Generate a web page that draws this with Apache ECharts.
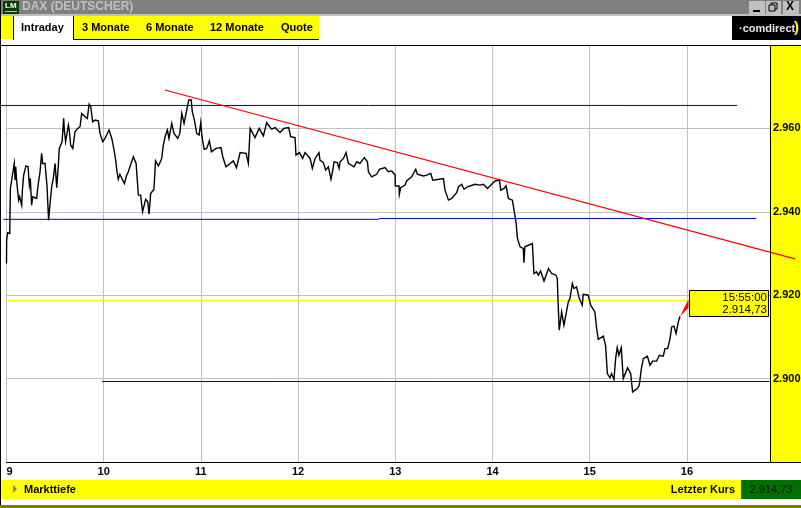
<!DOCTYPE html>
<html><head><meta charset="utf-8">
<style>html,body{margin:0;padding:0;background:#fff}#c{width:801px;height:508px}</style>
<script src="https://cdn.jsdelivr.net/npm/echarts@6/dist/echarts.min.js"></script>
</head><body><div id="c"></div>
<script>
// minutes after 09:00 and DAX index level
const priceMinutes = [0,0.1,0.7,2,2.4,3.6,4.8,5.3,5.7,6.3,7.5,8.1,9.4,9.8,10.6,12,13.3,14.1,14.7,15.5,16.2,18.6,19.3,20.7,21.7,22.3,23.8,25,26,26.9,27.9,28.9,30,31,32,32.6,34.3,35.3,35.7,36.5,38.2,38.8,39.6,40.9,42.3,44,45.4,46.4,47.4,48.5,49.9,51,52,53.2,54.7,56.7,57.7,59.4,60.8,63.3,65,66.4,67.4,68.2,69,70,72.8,74.2,75.2,76.3,78.3,80,81.4,82.8,84,85,85.9,87.2,88,89,91,92,93.8,95.8,96.8,97.9,99.3,100.3,102,103.4,105.7,107,108.2,109.6,110.8,112.5,114,114.7,116,117.4,118.9,119.9,120.7,122,123.6,125.2,126.5,127.7,129.4,132.4,133.5,135.5,138,140,142,144.2,147.9,149.3,150.4,153.4,156,158.6,160.6,161.6,163.7,165.8,168.8,171.3,174.2,175.4,178.1,178.7,180.8,182.8,184.3,187.4,188.8,190.5,192.9,193.5,195.6,197,198.7,200.3,201.4,202.2,204.2,205.3,205.9,208,209.6,211,214.5,216.2,218.2,220.9,222.8,223.4,225.4,228.5,230.2,233.7,235.7,237.8,239.9,240,242.3,242.5,243.3,246,247,250.1,252.6,253.6,257.3,259.4,261.9,263.1,269.7,270.7,272.8,274.8,277.9,279,281,282.4,284.5,289.2,292.3,294.4,296.9,299.5,301.6,304.3,305.1,307.1,308.4,309.8,312.3,313.3,314.6,315.4,317,319,319.4,320,324.6,325.6,327.2,328.3,329.7,331.8,334.6,336.5,339.2,340,340.4,341.2,342.7,344.1,345.3,346.8,347.8,349.3,350.3,351.9,353.6,355.4,356,359.1,360.6,363.2,364.3,365.3,368.4,369.8,370.9,372.5,373.5,375,376,377,378,379.5,380.7,381.8,383.4,385.3,386.5,389.4,390.6,391.9,393.1,395.6,397.2,398.9,401.3,403,405.4,406.5,408.1,409.6,410.6,412,413.3,414.7,415.7];
const priceValues = [2927.6,2933.2,2935,2934.8,2945.6,2945.8,2951.6,2947.6,2950.8,2947.2,2942.8,2943.6,2941.6,2945.2,2948.8,2951,2950.8,2946.4,2948,2941.6,2943.6,2943.2,2945.8,2949.6,2954,2951.6,2951.6,2946.2,2938,2942,2946,2948,2951.6,2945.8,2951.2,2955.2,2956.8,2962.4,2959.6,2956.8,2960.8,2959.4,2956,2955.2,2959.2,2960,2960.4,2963.6,2964,2962.8,2962.4,2965.8,2965.2,2961.6,2962,2961.8,2958.8,2956.8,2957.6,2959.6,2957.6,2954.8,2952.4,2949.6,2947.8,2949,2946.8,2948.8,2949.6,2950,2953.2,2951.6,2944,2944,2940,2940,2943,2942.4,2939.4,2944.4,2945.4,2952.2,2951,2952.8,2956,2958,2959.6,2957.6,2961.2,2958.8,2957.6,2958.8,2963.6,2961.2,2961.2,2966.8,2966.8,2964,2962,2958.8,2958.4,2961.4,2958,2955,2955.2,2957,2954.4,2954.2,2955.2,2955.4,2953.2,2950.8,2951.6,2952.2,2950.6,2954.2,2954,2951.6,2960,2957.8,2960,2958.2,2961.4,2960.8,2959.8,2960.2,2959,2960,2960.2,2958,2957.8,2953.6,2954.2,2952.8,2954.2,2952.8,2950.4,2952.8,2954.2,2952.4,2951.8,2950,2950.8,2947.8,2950,2952,2951.8,2950.4,2952,2952.8,2954.2,2951.6,2950.8,2952,2951.6,2953,2952,2949.6,2948.4,2949,2950.2,2950.6,2949.6,2949.8,2948.8,2946.2,2946.2,2944.2,2945.8,2946.4,2947.4,2948.4,2950.2,2949,2948.6,2948.8,2949.2,2947.6,2948,2945.2,2942.8,2943.2,2944.6,2946,2946.6,2945.4,2946,2946.6,2946.4,2946.6,2945.6,2946.6,2947.4,2947.6,2945.2,2945.6,2946.2,2943.2,2942.8,2940.4,2937.2,2933.6,2931.6,2931.2,2927.8,2931.6,2932.4,2925.2,2925.6,2924.8,2925.8,2923.4,2926.4,2925.2,2924.8,2924,2919.2,2911.6,2916,2912.8,2913.2,2918.4,2919.2,2922.8,2921.6,2922,2919.2,2917.6,2920.2,2920,2917.6,2916,2912,2909.4,2910.2,2908,2901.2,2900.2,2901.2,2899.8,2904.8,2907.4,2905.6,2907.4,2900,2899.6,2902.6,2901.2,2896.8,2897.6,2898.4,2902.4,2904.8,2905.4,2903.2,2904.2,2904.2,2905.6,2905.4,2907.2,2907.2,2909.6,2912.4,2912.6,2910.8,2913.6,2914.9];
// drawn lines: start minute, end minute, start level, end level
const resistanceDark = [[-4,451],[2965.5,2965.5]];
const supportDark = [[-2,230],[2938.2,2938.2]];
const supportBlue = [[230,462.7],[2938.4,2938.4]];
const bottomLine = [[59,471],[2899.3,2899.3]];
const lastCloseLine = [[0,421],[2918.7,2918.7]];
const trendLine = [[97.8,486.7],[2969.2,2928.7]];
const wedgeMinutes = [415.7,421,421];
const wedgeValues = [2914.9,2919,2917];
const tabLabels = ['3 Monate','6 Monate','12 Monate','Quote'];
const tabStarts = [82,146,210,281];
const lastTime = '15:55:00';
const lastPrice = '2.914,73';

const FONT = '"Liberation Sans", Arial, sans-serif';
const zip = (a, b) => a.map((v, i) => [v, b[i]]);
const rect = (x, y, w, h, fill, z) => ({type:'rect', silent:true, z:z===undefined?-5:z, shape:{x,y,width:w,height:h}, style:{fill}});
const text = (x, y, t, o) => ({type:'text', silent:true, z:(o&&o.z)||5, x, y, style:Object.assign({text:t, font:'bold 11px '+FONT, fill:'#000', textAlign:'left', textVerticalAlign:'middle'}, o||{})});
const gfx = [
  rect(0,0,801,15,'#808080'), rect(0,14,801,2,'#c0c0c0'),
  rect(3,1,16,13,'#0b3d0b',5), text(5,6,'LM',{font:'bold 8px '+FONT,fill:'#fff',z:6}), rect(5,11,12,1,'#c8d040',6),
  text(22,7,'DAX (DEUTSCHER)',{fill:'#c0c0c0',font:'bold 12px '+FONT}),
  rect(749,1,16,13,'#c0c0c0',2), rect(766,1,15,13,'#c0c0c0',2), rect(783,1,16,13,'#c0c0c0',2),
  rect(753,10,7,2,'#000',3),
  {type:'rect',silent:true,z:3,shape:{x:771,y:3,width:6,height:6},style:{fill:'none',stroke:'#000'}},
  {type:'rect',silent:true,z:4,shape:{x:769,y:5,width:6,height:6},style:{fill:'#c0c0c0',stroke:'#000'}},
  text(786,7,'X',{font:'bold 12px '+FONT}),
  rect(1,16,12,23,'#ffff00'), rect(13,16,1,24,'#000'),
  rect(73,16,246,23,'#ffff00'), rect(73,16,1,24,'#000'), rect(73,39,246,1,'#000'),
  text(21,28,'Intraday'),
  rect(732,16,69,24,'#000'), text(739,29,'\u00b7comdirect',{fill:'#e8e8e8',font:'bold 11px '+FONT}), text(794,28,')',{fill:'#ffff00',font:'bold 15px '+FONT}),
  rect(0,0,1,508,'#000',6),
  rect(1,45,800,1,'#000',4),
  rect(771,45,30,417,'#ffff00'), rect(770,45,1,417,'#000',4),
  rect(6,462,795,1,'#000',4),
  rect(1,480,800,19,'#ffff00'), rect(741,480,60,19,'#007000'), rect(0,505,801,3,'#808000',6),
  {type:'polygon',silent:true,z:5,shape:{points:[[13,485],[17,489],[13,493]]},style:{fill:'#808080'}},
  text(24,490,'Markttiefe'), text(735,490,'Letzter Kurs',{textAlign:'right'}),
  text(771,490,lastPrice,{textAlign:'center',fill:'#001a00',font:'11px '+FONT}),
  {type:'rect',silent:true,z:20,shape:{x:689.5,y:290.5,width:79,height:26},style:{fill:'#ffff00',stroke:'#000',lineWidth:1}},
  text(767,298,lastTime,{textAlign:'right',font:'11.5px '+FONT,z:21}),
  text(767,310,lastPrice,{textAlign:'right',font:'11.5px '+FONT,z:21})
];
tabLabels.forEach((t,i)=>gfx.push(text(tabStarts[i],28,t)));

// Straight drawn lines may run past the axis ends, so they are custom series that are not clipped.
const seg = (name, pair, color, width) => ({name, type:'custom', clip:false, silent:true, z:3,
  data:zip(pair[0],pair[1]), encode:{x:0,y:1},
  renderItem:(p,api)=>{
    if(p.dataIndex!==0) return null;
    return {type:'polyline', shape:{points:[api.coord([pair[0][0],pair[1][0]]),api.coord([pair[0][1],pair[1][1]])]},
      style:{stroke:color, lineWidth:width||1, fill:null}};
  }});

const chart = echarts.init(document.getElementById('c'), null, {renderer:'canvas'});
chart.setOption({
  animation:false,
  backgroundColor:'#fff',
  graphic:{elements:gfx},
  grid:{left:6.5, top:45, width:763.5, height:417, containLabel:false, outerBoundsMode:'none'},
  xAxis:{type:'value', min:0, max:471.3, interval:60,
    axisLine:{show:false}, axisTick:{show:false},
    axisLabel:{margin:4, color:'#000', fontFamily:'Liberation Sans', fontWeight:'bold', fontSize:11,
      showMaxLabel:false, hideOverlap:false, formatter:v=>String(9+v/60),
      alignMinLabel:'left'},
    splitLine:{show:true, showMinLine:true, showMaxLine:false, lineStyle:{color:'#c0c0c0',width:1}}},
  yAxis:{type:'value', position:'right', min:2880, max:2980, interval:20,
    axisLine:{show:false}, axisTick:{show:false},
    axisLabel:{margin:3, color:'#000', fontFamily:'Liberation Sans', fontWeight:'bold', fontSize:11,
      showMinLabel:false, showMaxLabel:false,
      formatter:v=>Math.floor(v/1000)+'.'+String(v%1000).padStart(3,'0')},
    splitLine:{show:true, showMinLine:false, showMaxLine:false, lineStyle:{color:'#c0c0c0',width:1}}},
  series:[
    seg('yellow', lastCloseLine, '#ffff00', 1.5),
    seg('resistance', resistanceDark, '#0000a8'),
    seg('support', supportDark, '#0000a8'),
    seg('support2', supportBlue, '#0000ff'),
    seg('bottom', bottomLine, '#0000a8'),
    {type:'line', name:'DAX', data:zip(priceMinutes,priceValues), symbol:'none', sampling:null, z:4,
      clip:false, lineStyle:{color:'#000',width:1.4,join:'miter'}},
    seg('trend', trendLine, '#ff0000', 1.2),
    {type:'custom', name:'wedge', z:5, clip:false, silent:true,
      data:zip(wedgeMinutes,wedgeValues), encode:{x:0,y:1},
      renderItem:(p,api)=>{
        if(p.dataIndex!==0) return null;
        const pts=wedgeMinutes.map((m,i)=>api.coord([m,wedgeValues[i]]));
        return {type:'polygon',shape:{points:pts},style:{fill:'#ff0000'}};
      }}
  ]
});
</script></body></html>
